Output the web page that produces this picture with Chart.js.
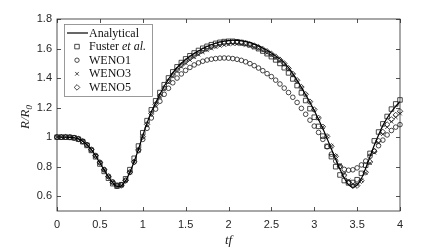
<!DOCTYPE html>
<html>
<head>
<meta charset="utf-8">
<script src="https://cdn.jsdelivr.net/npm/chart.js@4.4.1/dist/chart.umd.min.js"></script>
<style>
  html, body { margin: 0; padding: 0; background: #fff; }
  #wrap { width: 442px; height: 248px; }
</style>
</head>
<body>
<div id="wrap"><canvas id="grafico" width="442" height="248"></canvas></div>
<script>
// tempo adimensional tf
const tempo = [0, 0.05, 0.1, 0.15, 0.2, 0.25, 0.3, 0.35, 0.4, 0.45, 0.5, 0.55, 0.6, 0.65, 0.7, 0.75, 0.8, 0.85, 0.9, 0.95,
  1, 1.05, 1.1, 1.15, 1.2, 1.25, 1.3, 1.35, 1.4, 1.45, 1.5, 1.55, 1.6, 1.65, 1.7, 1.75, 1.8, 1.85, 1.9, 1.95,
  2, 2.05, 2.1, 2.15, 2.2, 2.25, 2.3, 2.35, 2.4, 2.45, 2.5, 2.55, 2.6, 2.65, 2.7, 2.75, 2.8, 2.85, 2.9, 2.95,
  3, 3.05, 3.1, 3.15, 3.2, 3.25, 3.3, 3.35, 3.4, 3.45, 3.5, 3.55, 3.6, 3.65, 3.7, 3.75, 3.8, 3.85, 3.9, 3.95, 4];

const analitico = [1.000, 1.000, 1.000, 0.999, 0.996, 0.988, 0.972, 0.948, 0.915, 0.873, 0.826, 0.777, 0.730, 0.690, 0.666, 0.670, 0.705, 0.762, 0.835, 0.918,
  1.010, 1.095, 1.170, 1.232, 1.290, 1.345, 1.392, 1.435, 1.470, 1.500, 1.525, 1.547, 1.566, 1.584, 1.600, 1.614, 1.626, 1.636, 1.644, 1.650,
  1.654, 1.656, 1.655, 1.652, 1.647, 1.640, 1.630, 1.618, 1.604, 1.588, 1.570, 1.550, 1.530, 1.505, 1.470, 1.430, 1.385, 1.337, 1.287, 1.235,
  1.180, 1.120, 1.058, 0.990, 0.920, 0.850, 0.782, 0.723, 0.678, 0.660, 0.675, 0.720, 0.790, 0.868, 0.945, 1.015, 1.078, 1.130, 1.172, 1.208, 1.240];

const fuster = [1.000, 1.000, 1.000, 0.999, 0.995, 0.986, 0.969, 0.944, 0.910, 0.867, 0.818, 0.768, 0.722, 0.685, 0.668, 0.678, 0.718, 0.780, 0.857, 0.940,
  1.030, 1.112, 1.185, 1.246, 1.302, 1.355, 1.401, 1.442, 1.476, 1.505, 1.530, 1.551, 1.570, 1.587, 1.602, 1.615, 1.626, 1.635, 1.642, 1.647,
  1.649, 1.649, 1.646, 1.641, 1.634, 1.625, 1.613, 1.599, 1.583, 1.565, 1.545, 1.523, 1.499, 1.470, 1.435, 1.394, 1.349, 1.300, 1.248, 1.193,
  1.135, 1.073, 1.007, 0.938, 0.868, 0.800, 0.744, 0.706, 0.690, 0.693, 0.712, 0.755, 0.810, 0.890, 0.975, 1.035, 1.090, 1.140, 1.190, 1.225, 1.252];

const weno1 = [1.000, 1.000, 1.000, 0.999, 0.996, 0.988, 0.972, 0.948, 0.915, 0.874, 0.828, 0.780, 0.735, 0.697, 0.675, 0.678, 0.708, 0.762, 0.832, 0.908,
  0.985, 1.060, 1.130, 1.190, 1.243, 1.290, 1.331, 1.368, 1.400, 1.428, 1.452, 1.472, 1.489, 1.503, 1.514, 1.522, 1.528, 1.532, 1.535, 1.536,
  1.535, 1.532, 1.527, 1.520, 1.510, 1.498, 1.484, 1.468, 1.450, 1.430, 1.410, 1.386, 1.360, 1.332, 1.302, 1.270, 1.235, 1.195, 1.155, 1.115,
  1.075, 1.032, 0.985, 0.935, 0.885, 0.838, 0.802, 0.782, 0.776, 0.779, 0.792, 0.812, 0.838, 0.870, 0.905, 0.942, 0.980, 1.015, 1.045, 1.068, 1.085];

const weno3 = [1.000, 1.000, 1.000, 0.999, 0.996, 0.988, 0.973, 0.949, 0.917, 0.876, 0.830, 0.781, 0.734, 0.695, 0.672, 0.674, 0.706, 0.761, 0.831, 0.911,
  0.998, 1.081, 1.153, 1.215, 1.271, 1.323, 1.370, 1.411, 1.446, 1.476, 1.501, 1.523, 1.542, 1.559, 1.575, 1.588, 1.600, 1.610, 1.618, 1.624,
  1.628, 1.631, 1.631, 1.629, 1.625, 1.619, 1.610, 1.599, 1.586, 1.571, 1.554, 1.535, 1.514, 1.489, 1.457, 1.420, 1.378, 1.333, 1.285, 1.235,
  1.183, 1.127, 1.068, 1.005, 0.940, 0.874, 0.810, 0.752, 0.707, 0.682, 0.680, 0.707, 0.758, 0.824, 0.895, 0.962, 1.020, 1.068, 1.105, 1.135, 1.160];

const weno5 = [1.000, 1.000, 1.000, 0.999, 0.996, 0.988, 0.972, 0.948, 0.916, 0.875, 0.829, 0.780, 0.733, 0.693, 0.670, 0.673, 0.706, 0.762, 0.833, 0.914,
  1.003, 1.087, 1.160, 1.222, 1.279, 1.332, 1.379, 1.421, 1.456, 1.487, 1.512, 1.534, 1.553, 1.571, 1.587, 1.600, 1.612, 1.622, 1.630, 1.636,
  1.640, 1.642, 1.642, 1.640, 1.636, 1.629, 1.620, 1.609, 1.596, 1.581, 1.564, 1.545, 1.524, 1.499, 1.466, 1.428, 1.385, 1.339, 1.290, 1.240,
  1.187, 1.130, 1.070, 1.005, 0.938, 0.870, 0.803, 0.742, 0.695, 0.670, 0.672, 0.705, 0.762, 0.832, 0.905, 0.975, 1.035, 1.085, 1.120, 1.150, 1.175];

const ticksX = [0, 0.5, 1, 1.5, 2, 2.5, 3, 3.5, 4];
const ticksY = [0.6, 0.8, 1, 1.2, 1.4, 1.6, 1.8];

const corEixo = '#262626';
const corMarca = '#1a1a1a';

const pares = arr => tempo.map((t, i) => ({ x: t, y: arr[i] }));

function serieMarcador(rotulo, dados, estilo, raio) {
    return {
        label: rotulo,
        data: pares(dados),
        showLine: false,
        pointStyle: estilo,
        pointRadius: raio,
        pointBorderWidth: 0.8,
        pointBorderColor: corMarca,
        pointBackgroundColor: 'rgba(0,0,0,0)',
        clip: false
    };
}

// moldura com marcas para dentro nos quatro lados
const pluginMoldura = {
    id: 'moldura',
    afterDatasetsDraw(chart) {
        const { ctx, chartArea: a, scales } = chart;
        ctx.save();
        ctx.strokeStyle = corEixo;
        ctx.lineWidth = 0.8;
        ctx.strokeRect(a.left, a.top, a.right - a.left, a.bottom - a.top);
        ctx.beginPath();
        ticksX.forEach(v => {
            const px = Math.round(scales.x.getPixelForValue(v)) + 0.5;
            ctx.moveTo(px, a.bottom); ctx.lineTo(px, a.bottom - 4);
            ctx.moveTo(px, a.top); ctx.lineTo(px, a.top + 4);
        });
        ticksY.forEach(v => {
            const py = Math.round(scales.y.getPixelForValue(v)) + 0.5;
            ctx.moveTo(a.left, py); ctx.lineTo(a.left + 4, py);
            ctx.moveTo(a.right, py); ctx.lineTo(a.right - 4, py);
        });
        ctx.stroke();
        ctx.restore();
    }
};

// legenda e títulos dos eixos desenhados à mão
const pluginLegenda = {
    id: 'legendaManual',
    afterDraw(chart) {
        const ctx = chart.ctx;
        const a = chart.chartArea;
        ctx.save();

        const bx = a.left + 7, by = a.top + 5, bw = 88, bh = 72;
        ctx.fillStyle = '#fff';
        ctx.fillRect(bx, by, bw, bh);
        ctx.strokeStyle = '#808080';
        ctx.lineWidth = 0.8;
        ctx.strokeRect(bx + 0.5, by + 0.5, bw, bh);

        const linhas = ['Analytical', 'Fuster', 'WENO1', 'WENO3', 'WENO5'];
        const estilos = [null, 'rect', 'circle', 'crossRot', 'rectRot'];
        const raios = [0, 3.2, 2.2, 2.6, 2.8];
        const xTexto = bx + 25;
        ctx.textBaseline = 'middle';
        linhas.forEach((txt, i) => {
            const y = by + 9 + i * 13.6;
            if (i === 0) {
                ctx.strokeStyle = '#000';
                ctx.lineWidth = 1.2;
                ctx.beginPath();
                ctx.moveTo(bx + 3, y); ctx.lineTo(bx + 24, y);
                ctx.stroke();
            } else {
                ctx.strokeStyle = corMarca;
                ctx.fillStyle = 'rgba(0,0,0,0)';
                ctx.lineWidth = 0.8;
                Chart.helpers.drawPoint(ctx, { pointStyle: estilos[i], radius: raios[i], rotation: 0, borderWidth: 0.8 }, bx + 13, y);
            }
            ctx.fillStyle = '#111';
            ctx.font = '12px "Liberation Serif"';
            ctx.fillText(txt, xTexto, y + 0.5);
            if (i === 1) {
                const w = ctx.measureText(txt + ' ').width;
                ctx.font = 'italic 12px "Liberation Serif"';
                ctx.fillText('et al.', xTexto + w, y + 0.5);
            }
        });

        // título do eixo x
        ctx.fillStyle = '#222';
        ctx.font = 'italic 13px "Liberation Serif"';
        ctx.textAlign = 'center';
        ctx.textBaseline = 'alphabetic';
        ctx.fillText('tf', (a.left + a.right) / 2, 244);

        // título do eixo y
        ctx.save();
        ctx.translate(29, (a.top + a.bottom) / 2 + 2);
        ctx.rotate(-Math.PI / 2);
        ctx.textAlign = 'left';
        const principal = 'R/R';
        ctx.font = 'italic 13px "Liberation Serif"';
        const wp = ctx.measureText(principal).width;
        ctx.font = 'italic 9px "Liberation Serif"';
        const ws = ctx.measureText('0').width;
        const x0 = -(wp + ws) / 2;
        ctx.font = 'italic 13px "Liberation Serif"';
        ctx.fillText(principal, x0, 0);
        ctx.font = 'italic 9px "Liberation Serif"';
        ctx.fillText('0', x0 + wp, 3);
        ctx.restore();

        ctx.restore();
    }
};

new Chart(document.getElementById('grafico'), {
    type: 'scatter',
    data: {
        datasets: [
            {
                label: 'Analytical',
                data: pares(analitico),
                showLine: true,
                borderColor: '#000',
                borderWidth: 1.2,
                pointRadius: 0,
                cubicInterpolationMode: 'monotone',
                clip: false
            },
            serieMarcador('Fuster et al.', fuster, 'rect', 3.2),
            serieMarcador('WENO1', weno1, 'circle', 2.3),
            serieMarcador('WENO3', weno3, 'crossRot', 2.6),
            serieMarcador('WENO5', weno5, 'rectRot', 2.8)
        ]
    },
    options: {
        responsive: false,
        animation: false,
        layout: { padding: { top: 19, right: 42, left: 0, bottom: 0 } },
        plugins: { legend: { display: false }, tooltip: { enabled: false } },
        scales: {
            x: {
                type: 'linear',
                min: 0,
                max: 4,
                afterBuildTicks: s => { s.ticks = ticksX.map(v => ({ value: v })); },
                afterFit: s => { s.height = 37; },
                grid: { display: false, drawTicks: false },
                border: { display: false },
                ticks: {
                    color: corEixo,
                    padding: 7,
                    maxRotation: 0,
                    font: { family: 'Liberation Sans', size: 11 },
                    callback: v => String(v)
                }
            },
            y: {
                type: 'linear',
                min: 0.5,
                max: 1.8,
                afterBuildTicks: s => { s.ticks = ticksY.map(v => ({ value: v })); },
                afterFit: s => { s.width = 57; },
                grid: { display: false, drawTicks: false },
                border: { display: false },
                ticks: {
                    color: corEixo,
                    padding: 5,
                    font: { family: 'Liberation Sans', size: 11 },
                    callback: v => String(v)
                }
            }
        }
    },
    plugins: [pluginMoldura, pluginLegenda]
});
</script>
</body>
</html>
